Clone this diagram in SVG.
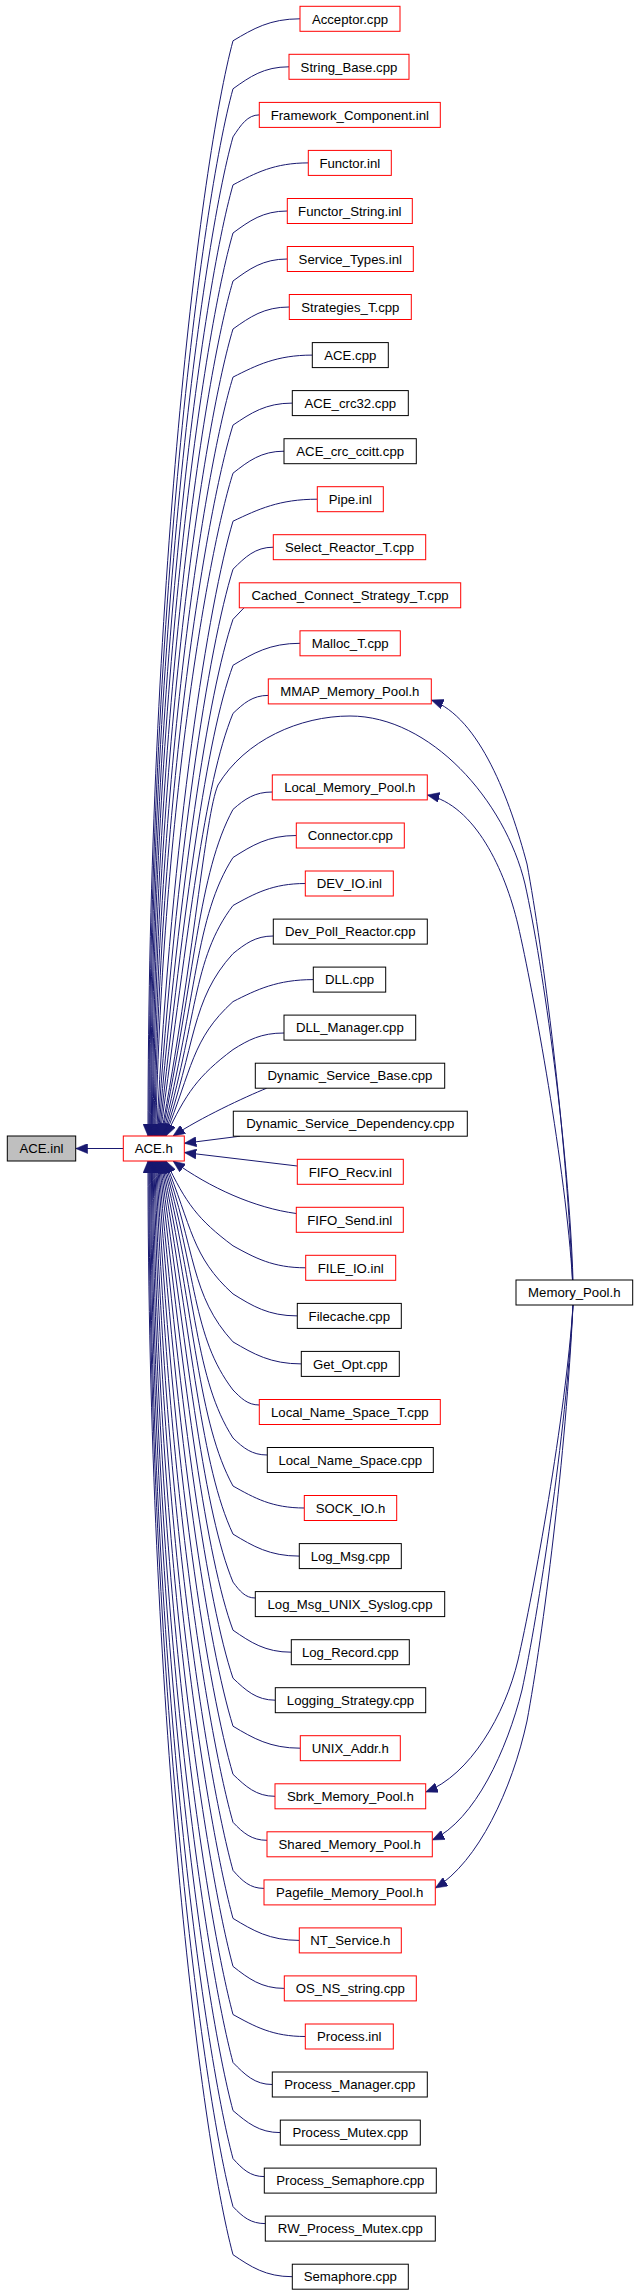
<svg xmlns="http://www.w3.org/2000/svg" width="637" height="2293" viewBox="0 0 637 2293">
<style>
rect{fill:#fff;stroke-width:1}
.r rect{stroke:#ff0000}
.k rect{stroke:#000}
.g rect{fill:#bfbfbf;stroke:#000}
text{font-family:"Liberation Sans",Arial,Helvetica,sans-serif;font-size:13.2px;text-anchor:middle;fill:#000}
#edges path{fill:none;stroke:#191970;stroke-width:1;marker-end:url(#ah)}
</style>
<defs>
<marker id="ah" markerUnits="userSpaceOnUse" markerWidth="12" markerHeight="10" refX="12" refY="5" orient="auto"><path d="M0,0 L12,5 L0,10 z" fill="#191970" stroke="#191970" stroke-width="0.5"/></marker>
</defs>
<rect x="0" y="0" width="637" height="2293" style="fill:#fff;stroke:none"/>
<g id="edges">
<path d="M123.3,1148.5 L75.7,1148.5"/>
<path d="M300,18.8 C269.9,18.8 253.1,28.8 233,40.8 C200.5,161.3 148,588.4 148,1136"/>
<path d="M289,66.8 C263.8,66.8 249.8,76.8 233,88.8 C201.2,204 148.9,612.4 148.9,1136"/>
<path d="M259.3,114.9 C247.5,114.9 240.9,124.9 233,136.9 C202.1,246.8 149.8,636.4 149.7,1136"/>
<path d="M308.3,162.9 C274.4,162.9 255.6,172.9 233,184.9 C203,289.5 151,660.4 150.6,1136"/>
<path d="M287.3,211 C262.9,211 249.3,221 233,233 C203.9,332.3 152.2,684.5 151.4,1136"/>
<path d="M287.3,259 C262.9,259 249.3,269 233,281 C204.9,375.1 153.9,708.5 152.3,1136"/>
<path d="M289.3,307 C264,307 249.9,317 233,329 C206,417.8 155.7,732.5 153.1,1136"/>
<path d="M312.3,355.1 C276.6,355.1 256.8,365.1 233,377.1 C207.1,460.6 157.8,756.5 154,1136"/>
<path d="M292.3,403.1 C265.6,403.1 250.8,413.1 233,425.1 C208.3,503.3 160.2,780.5 154.8,1136"/>
<path d="M284,451.2 C261.1,451.2 248.3,461.2 233,473.2 C209.6,546.1 162.8,804.6 155.7,1136"/>
<path d="M317.3,499.2 C279.4,499.2 258.3,509.2 233,521.2 C209.1,601.8 172.1,828.6 156.5,1136"/>
<path d="M273.3,547.2 C255.2,547.2 245.1,557.2 233,569.2 C208.6,647.5 176.5,852.6 157.4,1136"/>
<path d="M244,607.8 L233,619.3 C207.5,695.2 181,877.7 158.2,1136"/>
<path d="M300,643.3 C269.9,643.3 253.1,653.3 233,665.3 C206,738.9 185.3,900.7 159.1,1136"/>
<path d="M268.3,695.4 C252.4,695.4 243.6,703.4 233,713.4 C203.9,784.4 189.3,924.7 159.9,1136"/>
<path d="M272.3,792 C254.6,792 244.8,799 233,809.4 C198.2,873.5 195.5,972.7 161.6,1136"/>
<path d="M296.3,835.5 C267.8,835.5 252,845.5 233,857.5 C195,917 197.1,996.8 162.5,1136"/>
<path d="M305.3,883.5 C272.8,883.5 254.7,893.5 233,905.5 C192.1,959.2 197.3,1020.8 163.3,1136"/>
<path d="M273.3,936 C255.2,936 245.1,944 233,953.6 C190.6,1000.1 195.9,1044.8 164.2,1136"/>
<path d="M313.3,979.6 C277.3,979.6 256.7,989.6 233,1001.6 C191.7,1039.1 192.2,1068.8 165,1136"/>
<path d="M284,1033 C261,1033 248.3,1040 233,1049.6 C197.9,1076 186.2,1092.8 165.9,1136"/>
<path d="M266.7,1088.2 C245,1097 200,1118 173,1136"/>
<path d="M240,1136.2 L184.3,1143.3"/>
<path d="M297.3,1166 L184.3,1152.5"/>
<path d="M296.3,1213.5 C255,1208 210,1188 173,1161"/>
<path d="M305.7,1267.8 C273,1267.8 254.8,1257.8 233,1245.8 C198.2,1219.8 185.9,1203.4 165.9,1161"/>
<path d="M297.3,1315.9 C268.4,1315.9 252.3,1305.9 233,1293.9 C191.8,1256.7 192,1227.5 165,1161"/>
<path d="M301.3,1363.9 C270.6,1363.9 253.5,1353.9 233,1341.9 C190.6,1295.7 195.8,1251.5 164.2,1161"/>
<path d="M259.3,1405 C247.5,1405 240.9,1398 233,1390 C192.1,1336.5 197.3,1275.5 163.3,1161"/>
<path d="M267.3,1455 C251.9,1455 243.3,1448 233,1438 C194.9,1378.7 197.1,1299.5 162.5,1161"/>
<path d="M304.3,1508 C272.2,1508 254.4,1498 233,1486 C198.1,1422 195.5,1323.5 161.6,1161"/>
<path d="M299.3,1556.1 C269.5,1556.1 252.9,1546.1 233,1534.1 C201.2,1466.3 192.9,1347.6 160.8,1161"/>
<path d="M255.3,1598 C245.3,1598 239.7,1591 233,1582.1 C203.8,1511.2 189.4,1371.6 159.9,1161"/>
<path d="M291.3,1652.2 C265.1,1652.2 250.5,1642.2 233,1630.2 C206,1556.7 185.4,1395.6 159.1,1161"/>
<path d="M275.3,1700.2 C256.3,1700.2 245.7,1690.2 233,1678.2 C207.5,1602.3 181,1419.6 158.2,1161"/>
<path d="M300.3,1748.2 C270,1748.2 253.2,1738.2 233,1726.2 C208.6,1648 176.6,1443.6 157.4,1161"/>
<path d="M275,1796.3 C256.1,1796.3 245.6,1786.3 233,1774.3 C209.1,1693.8 172.2,1467.7 156.5,1161"/>
<path d="M267,1840.3 C251.7,1840.3 243.2,1833 233,1822.3 C209.3,1739.3 168,1491.7 155.7,1161"/>
<path d="M264,1888.4 C250,1888.4 242.3,1881 233,1870.4 C209.1,1784.6 164.1,1515.7 154.8,1161"/>
<path d="M299.3,1940.4 C269.5,1940.4 252.9,1930.4 233,1918.4 C208.6,1829.6 160.7,1539.7 154,1161"/>
<path d="M284.3,1988.4 C261.2,1988.4 248.4,1978.4 233,1966.4 C207.9,1874.1 157.6,1563.7 153.1,1161"/>
<path d="M305.3,2036.5 C272.8,2036.5 254.7,2026.5 233,2014.5 C207,1918.3 155,1587.8 152.3,1161"/>
<path d="M272.3,2084.5 C254.6,2084.5 244.8,2074.5 233,2062.5 C205.9,1962.1 152.9,1611.8 151.4,1161"/>
<path d="M280.3,2132.6 C259,2132.6 247.2,2122.6 233,2110.6 C204.6,2005.6 151.3,1635.8 150.6,1161"/>
<path d="M264.3,2176.6 C250.2,2176.6 242.4,2169 233,2158.6 C203.3,2048.7 149.7,1659.8 149.7,1161"/>
<path d="M265.3,2223.6 C250.8,2223.6 242.7,2217 233,2206.6 C201.9,2091.6 148.9,1683.8 148.9,1161"/>
<path d="M292.3,2276.7 C265.6,2276.7 250.8,2266.7 233,2254.7 C200.5,2134.4 148,1707.9 148,1161"/>
<path d="M573,1280 C569,1150 543,965 525,884 C505,800 430,716 350,716 C300,716 245,740 218,785 C205,815 193.8,960.5 160.8,1136"/>
<path d="M572.5,1280 C566,1130 543,950 527,864 C510,800 480,718 431.3,700"/>
<path d="M572.5,1280 C566,1170 533,990 518,925 C505,870 475,805 427.3,795"/>
<path d="M573,1305 C566,1415 533,1595 518,1660 C505,1715 470,1775 425.7,1792"/>
<path d="M573,1305 C566,1435 538,1615 522,1690 C507,1750 475,1820 432.3,1840"/>
<path d="M573,1305 C566,1455 543,1635 527,1721 C512,1790 478,1862 435.3,1888"/>
</g>
<g id="ACE_inl" class="g"><rect x="7.3" y="1136" width="68.4" height="25"/><text x="41.5" y="1153.2">ACE.inl</text></g>
<g id="ACE_h" class="r"><rect x="123.3" y="1136" width="61" height="25"/><text x="153.8" y="1153.2">ACE.h</text></g>
<g id="Memory_Pool_h" class="k"><rect x="516" y="1280" width="116.7" height="25"/><text x="574.3" y="1297.2">Memory_Pool.h</text></g>
<g id="Acceptor_cpp" class="r"><rect x="300" y="6.3" width="100" height="25"/><text x="350" y="23.5">Acceptor.cpp</text></g>
<g id="String_Base_cpp" class="r"><rect x="289" y="54.3" width="120" height="25"/><text x="349" y="71.5">String_Base.cpp</text></g>
<g id="Framework_Component_inl" class="r"><rect x="259.3" y="102.4" width="181" height="25"/><text x="349.8" y="119.6">Framework_Component.inl</text></g>
<g id="Functor_inl" class="r"><rect x="308.3" y="150.4" width="83" height="25"/><text x="349.8" y="167.6">Functor.inl</text></g>
<g id="Functor_String_inl" class="r"><rect x="287.3" y="198.5" width="125" height="25"/><text x="349.8" y="215.7">Functor_String.inl</text></g>
<g id="Service_Types_inl" class="r"><rect x="287.3" y="246.5" width="126" height="25"/><text x="350.3" y="263.7">Service_Types.inl</text></g>
<g id="Strategies_T_cpp" class="r"><rect x="289.3" y="294.5" width="122" height="25"/><text x="350.3" y="311.7">Strategies_T.cpp</text></g>
<g id="ACE_cpp" class="k"><rect x="312.3" y="342.6" width="76" height="25"/><text x="350.3" y="359.8">ACE.cpp</text></g>
<g id="ACE_crc32_cpp" class="k"><rect x="292.3" y="390.6" width="116" height="25"/><text x="350.3" y="407.8">ACE_crc32.cpp</text></g>
<g id="ACE_crc_ccitt_cpp" class="k"><rect x="284" y="438.7" width="132.3" height="25"/><text x="350.2" y="455.9">ACE_crc_ccitt.cpp</text></g>
<g id="Pipe_inl" class="r"><rect x="317.3" y="486.7" width="66" height="25"/><text x="350.3" y="503.9">Pipe.inl</text></g>
<g id="Select_Reactor_T_cpp" class="r"><rect x="273.3" y="534.7" width="152.4" height="25"/><text x="349.5" y="551.9">Select_Reactor_T.cpp</text></g>
<g id="Cached_Connect_Strategy_T_cpp" class="r"><rect x="239.3" y="582.8" width="221.4" height="25"/><text x="350" y="600">Cached_Connect_Strategy_T.cpp</text></g>
<g id="Malloc_T_cpp" class="r"><rect x="300" y="630.8" width="100.3" height="25"/><text x="350.2" y="648">Malloc_T.cpp</text></g>
<g id="MMAP_Memory_Pool_h" class="r"><rect x="268.3" y="678.9" width="163" height="25"/><text x="349.8" y="696.1">MMAP_Memory_Pool.h</text></g>
<g id="Local_Memory_Pool_h" class="r"><rect x="272.3" y="774.9" width="155" height="25"/><text x="349.8" y="792.1">Local_Memory_Pool.h</text></g>
<g id="Connector_cpp" class="r"><rect x="296.3" y="823" width="108" height="25"/><text x="350.3" y="840.2">Connector.cpp</text></g>
<g id="DEV_IO_inl" class="r"><rect x="305.3" y="871" width="88" height="25"/><text x="349.3" y="888.2">DEV_IO.inl</text></g>
<g id="Dev_Poll_Reactor_cpp" class="k"><rect x="273.3" y="919.1" width="154" height="25"/><text x="350.3" y="936.3">Dev_Poll_Reactor.cpp</text></g>
<g id="DLL_cpp" class="k"><rect x="313.3" y="967.1" width="72.4" height="25"/><text x="349.5" y="984.3">DLL.cpp</text></g>
<g id="DLL_Manager_cpp" class="k"><rect x="284" y="1015.1" width="131.7" height="25"/><text x="349.9" y="1032.3">DLL_Manager.cpp</text></g>
<g id="Dynamic_Service_Base_cpp" class="k"><rect x="255.3" y="1063.2" width="189.4" height="25"/><text x="350" y="1080.4">Dynamic_Service_Base.cpp</text></g>
<g id="Dynamic_Service_Dependency_cpp" class="k"><rect x="233.3" y="1111.2" width="234" height="25"/><text x="350.3" y="1128.4">Dynamic_Service_Dependency.cpp</text></g>
<g id="FIFO_Recv_inl" class="r"><rect x="297.3" y="1159.3" width="106" height="25"/><text x="350.3" y="1176.5">FIFO_Recv.inl</text></g>
<g id="FIFO_Send_inl" class="r"><rect x="296.3" y="1207.3" width="107" height="25"/><text x="349.8" y="1224.5">FIFO_Send.inl</text></g>
<g id="FILE_IO_inl" class="r"><rect x="305.7" y="1255.3" width="90" height="25"/><text x="350.7" y="1272.5">FILE_IO.inl</text></g>
<g id="Filecache_cpp" class="k"><rect x="297.3" y="1303.4" width="104" height="25"/><text x="349.3" y="1320.6">Filecache.cpp</text></g>
<g id="Get_Opt_cpp" class="k"><rect x="301.3" y="1351.4" width="98" height="25"/><text x="350.3" y="1368.6">Get_Opt.cpp</text></g>
<g id="Local_Name_Space_T_cpp" class="r"><rect x="259.3" y="1399.5" width="181" height="25"/><text x="349.8" y="1416.7">Local_Name_Space_T.cpp</text></g>
<g id="Local_Name_Space_cpp" class="k"><rect x="267.3" y="1447.5" width="166" height="25"/><text x="350.3" y="1464.7">Local_Name_Space.cpp</text></g>
<g id="SOCK_IO_h" class="r"><rect x="304.3" y="1495.5" width="92.4" height="25"/><text x="350.5" y="1512.7">SOCK_IO.h</text></g>
<g id="Log_Msg_cpp" class="k"><rect x="299.3" y="1543.6" width="102" height="25"/><text x="350.3" y="1560.8">Log_Msg.cpp</text></g>
<g id="Log_Msg_UNIX_Syslog_cpp" class="k"><rect x="255.3" y="1591.6" width="189.4" height="25"/><text x="350" y="1608.8">Log_Msg_UNIX_Syslog.cpp</text></g>
<g id="Log_Record_cpp" class="k"><rect x="291.3" y="1639.7" width="118" height="25"/><text x="350.3" y="1656.9">Log_Record.cpp</text></g>
<g id="Logging_Strategy_cpp" class="k"><rect x="275.3" y="1687.7" width="150.4" height="25"/><text x="350.5" y="1704.9">Logging_Strategy.cpp</text></g>
<g id="UNIX_Addr_h" class="r"><rect x="300.3" y="1735.7" width="100" height="25"/><text x="350.3" y="1752.9">UNIX_Addr.h</text></g>
<g id="Sbrk_Memory_Pool_h" class="r"><rect x="275" y="1783.8" width="150.7" height="25"/><text x="350.4" y="1801">Sbrk_Memory_Pool.h</text></g>
<g id="Shared_Memory_Pool_h" class="r"><rect x="267" y="1831.8" width="165.3" height="25"/><text x="349.7" y="1849">Shared_Memory_Pool.h</text></g>
<g id="Pagefile_Memory_Pool_h" class="r"><rect x="264" y="1879.9" width="171.3" height="25"/><text x="349.7" y="1897.1">Pagefile_Memory_Pool.h</text></g>
<g id="NT_Service_h" class="r"><rect x="299.3" y="1927.9" width="102" height="25"/><text x="350.3" y="1945.1">NT_Service.h</text></g>
<g id="OS_NS_string_cpp" class="r"><rect x="284.3" y="1975.9" width="132" height="25"/><text x="350.3" y="1993.1">OS_NS_string.cpp</text></g>
<g id="Process_inl" class="r"><rect x="305.3" y="2024" width="88" height="25"/><text x="349.3" y="2041.2">Process.inl</text></g>
<g id="Process_Manager_cpp" class="k"><rect x="272.3" y="2072" width="155" height="25"/><text x="349.8" y="2089.2">Process_Manager.cpp</text></g>
<g id="Process_Mutex_cpp" class="k"><rect x="280.3" y="2120.1" width="140" height="25"/><text x="350.3" y="2137.3">Process_Mutex.cpp</text></g>
<g id="Process_Semaphore_cpp" class="k"><rect x="264.3" y="2168.1" width="172" height="25"/><text x="350.3" y="2185.3">Process_Semaphore.cpp</text></g>
<g id="RW_Process_Mutex_cpp" class="k"><rect x="265.3" y="2216.1" width="170" height="25"/><text x="350.3" y="2233.3">RW_Process_Mutex.cpp</text></g>
<g id="Semaphore_cpp" class="k"><rect x="292.3" y="2264.2" width="116" height="25"/><text x="350.3" y="2281.4">Semaphore.cpp</text></g>
</svg>
